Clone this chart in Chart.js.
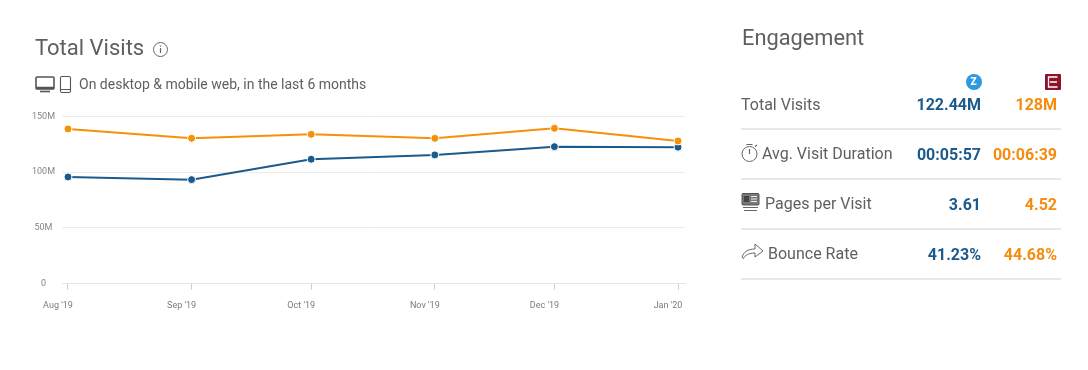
<!DOCTYPE html>
<html>
<head>
<meta charset="utf-8">
<script src="https://cdn.jsdelivr.net/npm/chart.js@4"></script>
<style>
  html, body { margin: 0; background: #fff; }
  body { width: 1088px; height: 370px; position: relative; overflow: hidden; font-family: Roboto, sans-serif; color: #5f5f5f; }
  #plot { position: absolute; left: 0; top: 100px; }
  #icons { position: absolute; left: 0; top: 0; }
  .t { position: absolute; white-space: nowrap; line-height: 20px; }
  .title { font-size: 22px; line-height: 28px; }
  .sub { font-size: 14px; }
  .lbl { font-size: 16px; left: 741px; }
  .val { font-size: 16px; font-weight: 700; text-align: right; }
  .a { color: #1b5a8c; right: 107px; }
  .b { color: #f58c0f; right: 31px; }
  .sep { position: absolute; left: 741px; width: 320px; height: 2px; background: #e8e8e8; }
</style>
</head>
<body>
<canvas id="plot" width="720" height="220"></canvas>

<svg id="icons" width="1088" height="370" fill="none" stroke="#666">
  <!-- info -->
  <circle cx="160.500" cy="49.500" r="7" stroke-width="1"/>
  <path d="M160.500 48v5M160.500 45.500v1.200" stroke-width="1.200"/>
  <!-- monitor + phone -->
  <rect x="36" y="77" width="18" height="12" rx="1" stroke="#555" stroke-width="1.600"/>
  <path d="M36 88h18" stroke="#555" stroke-width="2.500"/>
  <path d="M40 91.500h10" stroke="#555" stroke-width="1.600"/>
  <rect x="60.500" y="76.500" width="10" height="16" rx="1.500" stroke="#555" stroke-width="1.100"/>
  <path d="M61 89.500h9" stroke="#555" stroke-width="1"/>
  <!-- timer -->
  <circle cx="749.500" cy="154" r="7.500" stroke-width="1"/>
  <path d="M749.500 149v5M746.500 144.500h6M755 146.500l2-1.500" stroke-width="1.200"/>
  <!-- newspaper -->
  <rect x="742" y="193.500" width="17" height="11.500" rx="1" fill="#777" stroke="#555"/>
  <path d="M744 196h5v6h-5z" fill="#444" stroke="none"/>
  <path d="M751 196.500h6M751 199h6M751 201.500h6" stroke="#eee" stroke-width="1"/>
  <path d="M743 207.500h15M744 210.500h13" stroke="#666" stroke-width="1.200"/>
  <!-- bounce arrow -->
  <path d="M742 258c1-6 6-9 13-9v-5l8 7-8 6v-4c-6 0-10 2-12 6" stroke-width="1"/>
  <!-- competitor logos -->
  <circle cx="974" cy="82" r="8" fill="#2d9ae0" stroke="none"/>
  <rect x="1045" y="74" width="16" height="16" rx="1" fill="#8c1428" stroke="none"/>
  <path d="M1057.500 77h-9v10h9M1050 82h7" stroke="#fff" stroke-width="1.300"/>
</svg>

<div class="t title" style="left:35px;top:34px">Total Visits</div>
<div class="t sub" style="left:79px;top:74px">On desktop &amp; mobile web, in the last 6 months</div>

<div class="t title" style="left:742px;top:24px;font-size:21.800px">Engagement</div>
<div class="t" style="left:970.500px;top:72px;font-size:10px;font-weight:900;color:#fff">Z</div>

<div class="t lbl" style="top:95px">Total Visits</div>
<div class="t val a" style="top:95px">122.44M</div>
<div class="t val b" style="top:95px">128M</div>
<div class="sep" style="top:128px"></div>

<div class="t lbl" style="top:144px;left:762px">Avg. Visit Duration</div>
<div class="t val a" style="top:145px">00:05:57</div>
<div class="t val b" style="top:145px">00:06:39</div>
<div class="sep" style="top:178px"></div>

<div class="t lbl" style="top:194px;left:765px">Pages per Visit</div>
<div class="t val a" style="top:195px">3.61</div>
<div class="t val b" style="top:195px">4.52</div>
<div class="sep" style="top:228px"></div>

<div class="t lbl" style="top:244px;left:768px">Bounce Rate</div>
<div class="t val a" style="top:245px">41.23%</div>
<div class="t val b" style="top:245px">44.68%</div>
<div class="sep" style="top:278px"></div>

<script>
// days since 1 Aug 2019, the months are not the same length so the points are not evenly spaced
const diasMes = [0, 31, 61, 92, 122, 153];
const etiquetasMes = ["Aug '19", "Sep '19", "Oct '19", "Nov '19", "Dec '19", "Jan '20"];

// visits in millions
const visitasZ = [95.7, 93.3, 111.6, 115.5, 122.9, 122.44];
const visitasE = [138.8, 130.4, 134, 130.4, 139.4, 128];

const ticksY = [0, 50, 100, 150];
const etiquetasY = ["0", "50M", "100M", "150M"];

let puntos = (valores) => valores.map((y, i) => ({ x: diasMes[i], y: y }));

let serie = (label, valores, color, order) => ({
  label: label,
  data: puntos(valores),
  order: order,
  borderColor: color,
  backgroundColor: color,
  borderWidth: 2,
  tension: 0,
  pointRadius: 4,
  pointBorderColor: "#fff",
  pointBorderWidth: 1,
  pointBackgroundColor: color,
});

new Chart(document.getElementById("plot"), {
  type: "line",
  data: {
    datasets: [
      serie("Visits Z", visitasZ, "#1b5a8c", 2),
      serie("Visits E", visitasE, "#f5900a", 1),
    ],
  },
  options: {
    responsive: false,
    animation: false,
    layout: { padding: { top: 16.5, right: 35 } },
    plugins: { legend: { display: false }, tooltip: { enabled: false } },
    scales: {
      x: {
        type: "linear",
        min: -1.5,
        max: 154.75,
        afterBuildTicks: (axis) => {
          axis.ticks = diasMes.map((d) => ({ value: d }));
        },
        afterFit: (axis) => {
          axis.height = 36.5;
        },
        border: { color: "#e3e6ec" },
        grid: { drawOnChartArea: false, tickLength: 6, tickColor: "#bfd0e2" },
        ticks: {
          autoSkip: false,
          maxRotation: 0,
          labelOffset: -10,
          padding: 11,
          color: "#7a7a7a",
          font: { family: "Roboto", size: 9 },
          callback: (v, i) => etiquetasMes[i],
        },
      },
      y: {
        min: 0,
        max: 150,
        afterBuildTicks: (axis) => {
          axis.ticks = ticksY.map((v) => ({ value: v }));
        },
        afterFit: (axis) => {
          axis.width = 62;
        },
        border: { display: false },
        grid: { color: "#ebebeb", drawTicks: false },
        ticks: {
          crossAlign: "center",
          padding: 7,
          color: "#858585",
          font: { family: "Roboto", size: 9 },
          callback: (v, i) => etiquetasY[i],
        },
      },
    },
  },
});
</script>
</body>
</html>
